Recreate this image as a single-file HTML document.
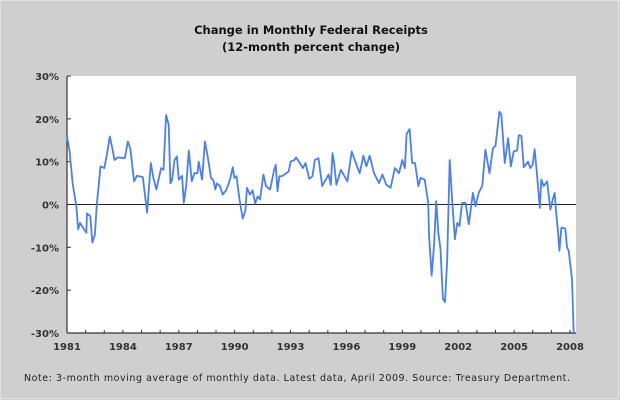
<!DOCTYPE html>
<html><head><meta charset="utf-8"><style>
html,body{margin:0;padding:0;background:#cfcfcf;}
svg{display:block;font-family:"DejaVu Sans","Liberation Sans",sans-serif;}
</style></head><body>
<svg id="chart" width="620" height="400" viewBox="0 0 620 400">
<rect x="0" y="0" width="620" height="400" fill="#cfcfcf"/>
<rect x="0.5" y="0.5" width="618" height="398" fill="none" stroke="#e2e2e2"/>
<text x="311" y="34" text-anchor="middle" font-size="11.5" font-weight="bold" fill="#111">Change in Monthly Federal Receipts</text>
<text x="311" y="51" text-anchor="middle" font-size="11.5" font-weight="bold" fill="#111">(12-month percent change)</text>
<rect x="67" y="76" width="509" height="257" fill="#fff"/>
<g id="axes"></g>
<g id="series"></g>
<text x="24" y="381" text-anchor="start" font-size="9.5" fill="#222" textLength="546" lengthAdjust="spacing">Note: 3-month moving average of monthly data. Latest data, April 2009. Source: Treasury Department.</text>
</svg>
<script>
const years=[1981,1981.14,1981.3,1981.5,1981.6,1981.7,1981.86,1982.04,1982.07,1982.25,1982.36,1982.5,1982.6,1982.8,1983.0,1983.14,1983.3,1983.45,1983.55,1983.73,1984.1,1984.27,1984.4,1984.6,1984.75,1985.07,1985.3,1985.5,1985.64,1985.8,1986.05,1986.18,1986.32,1986.46,1986.55,1986.64,1986.77,1986.9,1987.0,1987.18,1987.27,1987.4,1987.54,1987.7,1987.84,1988.0,1988.07,1988.25,1988.4,1988.55,1988.73,1988.86,1988.96,1989.04,1989.2,1989.36,1989.54,1989.75,1989.9,1989.98,1990.1,1990.25,1990.43,1990.57,1990.66,1990.82,1990.96,1991.1,1991.23,1991.36,1991.54,1991.68,1991.9,1992.1,1992.2,1992.3,1992.4,1992.54,1992.9,1993.0,1993.2,1993.3,1993.5,1993.66,1993.8,1994.0,1994.18,1994.3,1994.5,1994.7,1995.04,1995.16,1995.25,1995.34,1995.46,1995.7,1996.05,1996.28,1996.5,1996.71,1996.91,1997.07,1997.25,1997.48,1997.75,1997.93,1998.14,1998.37,1998.6,1998.82,1999.0,1999.14,1999.23,1999.39,1999.53,1999.68,1999.86,1999.98,2000.2,2000.39,2000.43,2000.57,2000.7,2000.82,2000.93,2001.05,2001.18,2001.29,2001.41,2001.54,2001.68,2001.82,2001.95,2002.07,2002.21,2002.39,2002.57,2002.79,2002.93,2003.1,2003.29,2003.46,2003.68,2003.86,2004.0,2004.21,2004.32,2004.5,2004.68,2004.82,2004.98,2005.16,2005.25,2005.39,2005.52,2005.75,2005.87,2006.0,2006.1,2006.23,2006.38,2006.46,2006.59,2006.77,2006.95,2007.07,2007.18,2007.25,2007.36,2007.43,2007.54,2007.75,2007.84,2007.93,2008.11,2008.2];
const values=[15.9,12.4,5,-0.4,-5.8,-4.3,-5.4,-6.6,-2.1,-2.7,-8.9,-7,0,8.9,8.5,11.6,15.9,12.8,10.4,11,10.8,14.7,13.1,5.4,6.7,6.4,-1.9,9.7,6.2,3.5,8.5,8.1,20.9,18.6,4.9,5.8,10.4,11.2,5.8,6.7,0.4,4.3,12.6,5.4,7.3,7.3,10,5.8,14.7,11.2,6.2,5.6,3.5,4.9,4.4,2.3,3.3,5.8,8.7,6.2,6.6,1.5,-3.3,-1.5,3.9,2.3,3.3,0.2,1.9,1.2,7,4.3,3.5,7.7,9.3,3.1,6.6,6.6,7.7,10,10.4,11,9.7,8.5,9.7,6,6.6,10.4,10.8,4.3,7,4.6,12,9.7,4.6,8.1,5.4,12.4,9.7,7.3,11.4,8.9,11.4,7.3,5,7,4.6,3.9,8.5,7.3,10.4,8.5,16.5,17.6,9.7,9.7,4.3,6.2,5.8,0.4,-7,-16.6,-9.7,0.8,-6.6,-10.4,-22,-22.8,-12.8,10.4,0.4,-8.1,-4.3,-5,0.4,0.4,-4.6,2.7,-0.4,2.7,4.4,12.8,7.3,13.1,13.7,21.7,20.9,9.7,15.5,8.9,12.4,12.6,16.2,16,8.7,10,8.5,9.3,12.9,7,-0.8,5.8,4.3,5.4,-1.2,1.2,2.7,-1.5,-6.6,-10.8,-5.4,-5.6,-10,-10.8,-17.4,-30];
const yTicks=[30,20,10,0,-10,-20,-30];
const yTickLabels=["30%","20%","10%","0%","-10%","-20%","-30%"];
const xTicks=[1981,1984,1987,1990,1993,1996,1999,2002,2005,2008];
const xTickLabels=["1981","1984","1987","1990","1993","1996","1999","2002","2005","2008"];

const NS="http://www.w3.org/2000/svg";
const X0=67,X1=570,Y0=333,Y1=76;
const xs=y=>X0+(y-1981)/(2008-1981)*(X1-X0);
const ys=v=>Y0-(v+30)/60*(Y0-Y1);
function mk(tag,attrs,parent){const e=document.createElementNS(NS,tag);for(const k in attrs)e.setAttribute(k,attrs[k]);parent.appendChild(e);return e;}
const ax=document.getElementById('axes');
yTicks.forEach((v,i)=>{
  const t=mk('line',{x1:X0,x2:X0+4,y1:ys(v),y2:ys(v),stroke:'#333','stroke-width':1},ax);
  
  
  const l=mk('text',{x:X0-8,y:ys(v)+4,'text-anchor':'end','font-size':'10','font-weight':'bold',fill:'#333'},ax);
  l.textContent=yTickLabels[i];
  
  
});
for(let yr=1981;yr<=2008;yr++){
  const t=mk('line',{x1:xs(yr),x2:xs(yr),y1:Y0,y2:Y0-3,stroke:'#333','stroke-width':1},ax);
  
  
}
xTicks.forEach((yr,i)=>{
  const l=mk('text',{x:xs(yr),y:Y0+17,'text-anchor':'middle','font-size':'10','font-weight':'bold',fill:'#333'},ax);
  l.textContent=xTickLabels[i];
  
  
});
const ya=mk('line',{x1:X0,x2:X0,y1:Y1,y2:Y0,stroke:'#333','stroke-width':1.2},ax);


const xa=mk('line',{x1:X0,x2:576,y1:Y0,y2:Y0,stroke:'#333','stroke-width':1.2},ax);


const zl=mk('line',{x1:X0,x2:576,y1:ys(0),y2:ys(0),stroke:'#222','stroke-width':1},ax);


const sg=document.getElementById('series');
const d=years.map((y,i)=>(i?'L':'M')+xs(y).toFixed(1)+','+ys(values[i]).toFixed(1)).join(' ');
const p=mk('path',{d:d,fill:'none',stroke:'#4a7ff0','stroke-width':1.8,'stroke-linejoin':'round'},sg);


</script>
</body></html>
